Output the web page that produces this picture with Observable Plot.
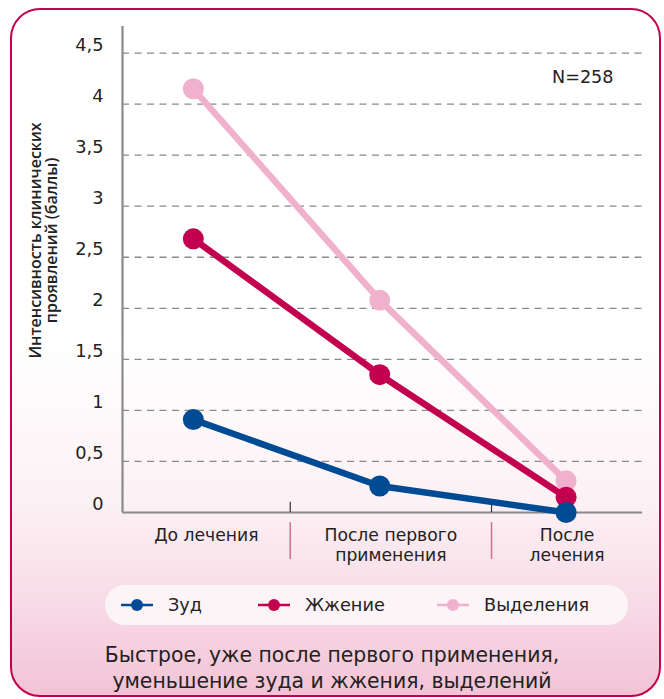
<!DOCTYPE html>
<html><head><meta charset="utf-8">
<script src="https://cdn.jsdelivr.net/npm/d3@7"></script>
<script src="https://cdn.jsdelivr.net/npm/@observablehq/plot@0.6"></script>
<style>
html,body{margin:0;padding:0}
body{width:664px;height:699px;position:relative;overflow:hidden;background:#fff;font-family:"DejaVu Sans",sans-serif;color:#222}
#frame{position:absolute;left:10px;top:8px;width:651px;height:689px;box-sizing:border-box;border:2.5px solid #c2004f;border-radius:30px;
background:linear-gradient(to bottom,#ffffff 0%,#ffffff 48%,#fcf1f5 72%,#f8dce7 86%,#f3c3d5 100%)}
#chart{position:absolute;left:0;top:0}
#chart svg{overflow:visible}
#legend{position:absolute;left:105px;top:585px;width:523px;height:40px;border-radius:20px;background:#fdf4f7}
.item{position:absolute;top:0;height:40px;display:flex;align-items:center;font-size:17.7px;color:#222;white-space:nowrap}
.item svg{margin-right:15px}
#caption{position:absolute;left:0;width:664px;top:642px;text-align:center;font-size:20.4px;line-height:26px;color:#222}
</style></head>
<body>
<div id="frame"></div>
<div id="chart"></div>
<div id="legend"></div>
<div id="caption">Быстрое, уже после первого применения,<br>уменьшение зуда и жжения, выделений</div>
<script>
// ---- data ----
const categories = ["До лечения", "После первого\nприменения", "После\nлечения"];
const seriesNames = ["Зуд", "Жжение", "Выделения"];
const itch = [0.91, 0.26, 0.0];
const burning = [2.68, 1.35, 0.15];
const discharge = [4.15, 2.08, 0.31];
const yTicks = [0, 0.5, 1, 1.5, 2, 2.5, 3, 3.5, 4, 4.5];
const dividers = [0.52, 1.6];
const sampleLabel = "N=258";
const yTitle = "Интенсивность клинических\nпроявлений (баллы)";
const colors = ["#004b93", "#c2004f", "#f0b1cd"];

// ---- build table ----
const seriesValues = [itch, burning, discharge];
const rows = [];
// draw order: discharge (bottom), burning, itch (top)
[2, 1, 0].forEach(s => seriesValues[s].forEach((v, i) => rows.push({series: seriesNames[s], i, v})));

const xDomain = [-0.38, 2.41];
const bounds = [xDomain[0], ...dividers, xDomain[1]];
const labelPos = categories.map((c, i) => ({text: c, x: (bounds[i] + bounds[i + 1]) / 2}));
const fmt = d => String(d).replace(".", ",");
const font = "DejaVu Sans";

const plot = Plot.plot({
  width: 664,
  height: 575,
  marginLeft: 122,
  marginRight: 22,
  marginTop: 26,
  marginBottom: 63,
  style: {fontFamily: font, background: "transparent", color: "#222"},
  x: {domain: xDomain, axis: null},
  y: {domain: [0, 4.76], axis: null},
  color: {domain: seriesNames, range: colors},
  marks: [
    Plot.ruleY(yTicks.filter(d => d > 0), {x1: xDomain[0], x2: xDomain[1], stroke: "#8a8a8a", strokeWidth: 1.3, strokeDasharray: "7,5.5"}),
    Plot.ruleY([0], {x1: xDomain[0], x2: xDomain[1], stroke: "#8a8a8a", strokeWidth: 2.2}),
    Plot.ruleX([xDomain[0]], {y1: 0, y2: 4.76, stroke: "#8a8a8a", strokeWidth: 2.2}),
    Plot.ruleX(dividers, {y1: 0, y2: 0.1, stroke: "#333", strokeWidth: 1.2}),
    Plot.ruleX(dividers, {y1: -0.1, y2: -0.46, stroke: "#d46b8e", strokeWidth: 1.5}),
    Plot.text(yTicks, {x: xDomain[0], y: d => d, text: fmt, textAnchor: "end", dx: -19, dy: -8, fontSize: 17.8, fill: "#222"}),
    Plot.text(labelPos, {x: "x", y: 0, text: "text", lineAnchor: "top", dy: 14.5, fontSize: 17.2, lineHeight: 1.17, fill: "#222"}),
    Plot.text([sampleLabel], {frameAnchor: "top-right", textAnchor: "end", lineAnchor: "middle", dx: -29, dy: 51, fontSize: 17.6, fill: "#222"}),
    Plot.text([yTitle], {frameAnchor: "left", rotate: -90, lineAnchor: "middle", textAnchor: "middle", dx: -79, dy: -29, fontSize: 16, fontWeight: 600, fontFamily: "Open Sans", lineHeight: 1.03, fill: "#222"}),
    Plot.line(rows, {x: "i", y: "v", z: "series", stroke: "series", strokeWidth: 6.5, strokeLinecap: "round"}),
    Plot.dot(rows, {x: "i", y: "v", fill: "series", r: 10.5})
  ]
});
document.getElementById("chart").appendChild(plot);

// ---- legend ----
const legend = document.getElementById("legend");
const itemLeft = [16, 153, 332];
seriesNames.forEach((name, k) => {
  const div = document.createElement("div");
  div.className = "item";
  div.style.left = itemLeft[k] + "px";
  div.innerHTML = `<svg width="32" height="14"><line x1="0" y1="7" x2="32" y2="7" stroke="${colors[k]}" stroke-width="2.5"/><circle cx="16" cy="7" r="6" fill="${colors[k]}"/></svg><span>${name}</span>`;
  legend.appendChild(div);
});
</script>
</body></html>
